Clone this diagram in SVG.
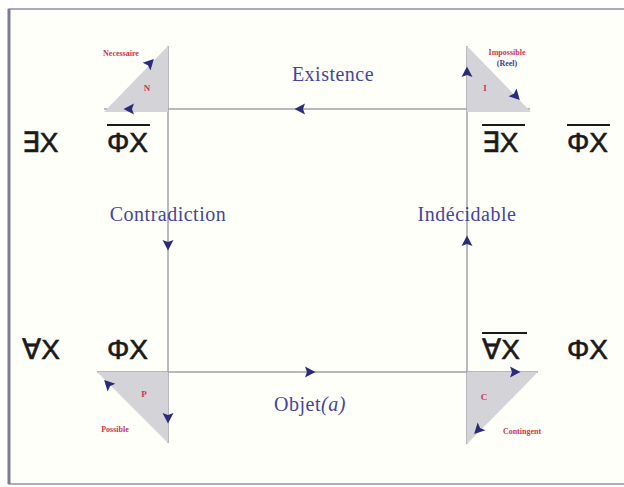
<svg xmlns="http://www.w3.org/2000/svg" xmlns:xlink="http://www.w3.org/1999/xlink" width="624" height="487" viewBox="0 0 624 487">
<style>
.ln{stroke:#a0a0a8;stroke-width:1.5;fill:none}
.tri{fill:#d4d4d8;stroke:none}
.ah{fill:#2b2b7a}
.lbl{font-family:"Liberation Serif","Times New Roman",serif;font-size:20px;letter-spacing:0.5px;fill:#45459a;text-anchor:middle}
.sym{font-family:"Liberation Sans","DejaVu Sans",Arial,sans-serif;font-size:28px;fill:#1a1a1a;stroke:#1a1a1a;stroke-width:0.6}
.ol{stroke:#1a1a1a;stroke-width:2}
.red{font-family:"Liberation Serif","Times New Roman",serif;font-weight:bold;fill:#cc3355}
.blu{font-family:"Liberation Serif","Times New Roman",serif;font-weight:bold;fill:#3a3a8c}
</style>
<defs>
<path id="ah" d="M5.5,0 L-5,-5.5 L-3,0 L-5,5.5 Z"/>
</defs>
<rect x="0" y="0" width="624" height="487" fill="#ffffff"/>
<rect x="9" y="9" width="640" height="475" fill="#fffffa" stroke="#9090aa" stroke-width="1.5"/>
<line x1="9" y1="9" x2="9" y2="484" stroke="#7a7a9a" stroke-width="3"/>

<g id="connectors">
<line class="ln" x1="104" y1="109" x2="530" y2="109"/>
<line class="ln" x1="97" y1="372" x2="538" y2="372"/>
<line class="ln" x1="168" y1="46" x2="168" y2="443"/>
<line class="ln" x1="467" y1="46" x2="467" y2="444"/>
<use href="#ah" class="ah" transform="translate(300,109) rotate(180)"/>
<use href="#ah" class="ah" transform="translate(168,245) rotate(90)"/>
<use href="#ah" class="ah" transform="translate(467,241) rotate(-90)"/>
<use href="#ah" class="ah" transform="translate(310,372)"/>
<text class="lbl" x="333" y="81">Existence</text>
<text class="lbl" x="168" y="221">Contradiction</text>
<text class="lbl" x="467" y="221">Indécidable</text>
<text class="lbl" x="310" y="411">Objet<tspan font-style="italic">(a)</tspan></text>
</g>

<g id="node-N">
<polygon class="tri" points="168,46 104,112 168,112"/>
<text class="red" x="121" y="56" font-size="8" text-anchor="middle">Necessaire</text>
<text class="red" x="147" y="91" font-size="9" text-anchor="middle">N</text>
<use href="#ah" class="ah" transform="translate(129,109) rotate(180)"/>
<use href="#ah" class="ah" transform="translate(150,63) rotate(-46)"/>
<text class="sym" x="22" y="152">∃X</text>
<text class="sym" x="107" y="152">ΦX</text>
<line class="ol" x1="107" y1="125" x2="150" y2="125"/>
</g>

<g id="node-I">
<polygon class="tri" points="467,46 467,112 531,112"/>
<text class="red" x="507" y="55" font-size="8" text-anchor="middle">Impossible</text>
<text class="blu" x="507" y="66" font-size="8" text-anchor="middle">(Reel)</text>
<text class="red" x="485" y="91" font-size="9" text-anchor="middle">I</text>
<use href="#ah" class="ah" transform="translate(467,72) rotate(-90)"/>
<use href="#ah" class="ah" transform="translate(516,96) rotate(46)"/>
<text class="sym" x="482" y="152">∃X</text>
<line class="ol" x1="482" y1="125" x2="525" y2="125"/>
<text class="sym" x="567" y="152">ΦX</text>
<line class="ol" x1="567" y1="125" x2="610" y2="125"/>
</g>

<g id="node-P">
<polygon class="tri" points="97,372 168,372 168,443"/>
<text class="red" x="144" y="397" font-size="9" text-anchor="middle">P</text>
<text class="red" x="115" y="432" font-size="8" text-anchor="middle">Possible</text>
<use href="#ah" class="ah" transform="translate(108,384) rotate(-135)"/>
<use href="#ah" class="ah" transform="translate(168,418) rotate(90)"/>
<text class="sym" x="22" y="359">∀X</text>
<text class="sym" x="107" y="359">ΦX</text>
</g>

<g id="node-C">
<polygon class="tri" points="467,372 538,372 467,444"/>
<text class="red" x="484" y="400" font-size="9" text-anchor="middle">C</text>
<text class="red" x="522" y="434" font-size="8" text-anchor="middle">Contingent</text>
<use href="#ah" class="ah" transform="translate(515,372)"/>
<use href="#ah" class="ah" transform="translate(478,430) rotate(135)"/>
<text class="sym" x="482" y="359">∀X</text>
<line class="ol" x1="482" y1="333" x2="527" y2="333"/>
<text class="sym" x="567" y="359">ΦX</text>
</g>
</svg>
